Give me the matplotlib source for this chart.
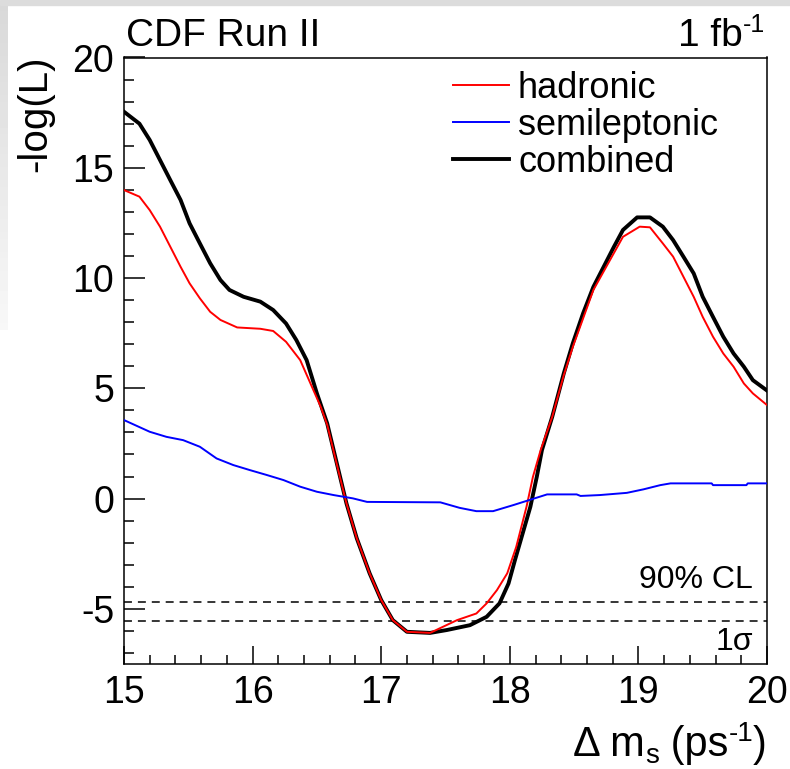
import numpy as np
import matplotlib
matplotlib.use('Agg')
from matplotlib import pyplot as plt
from matplotlib.patches import Rectangle
from matplotlib.ticker import MultipleLocator

plt.rcParams['font.family'] = ['Liberation Sans', 'DejaVu Sans']
plt.rcParams['axes.unicode_minus'] = False

# combined likelihood scan
comb_x = [15.00, 15.12, 15.20, 15.28, 15.36, 15.44, 15.51, 15.59, 15.67, 15.75,
          15.82, 15.93, 16.06, 16.16, 16.26, 16.34, 16.42, 16.50, 16.58, 16.63,
          16.68, 16.73, 16.81, 16.91, 17.00, 17.09, 17.20, 17.38, 17.51, 17.69,
          17.82, 17.92, 17.99, 18.04, 18.10, 18.16, 18.21, 18.25, 18.33, 18.42,
          18.49, 18.57, 18.65, 18.73, 18.81, 18.88, 18.99, 19.09, 19.19, 19.27,
          19.35, 19.43, 19.50, 19.58, 19.66, 19.74, 19.82, 19.89, 20.00]
comb_y = [17.54, 17.00, 16.26, 15.35, 14.44, 13.54, 12.48, 11.57, 10.67, 9.91,
          9.46, 9.15, 8.93, 8.55, 7.94, 7.19, 6.28, 4.77, 3.41, 2.20,
          0.99, -0.22, -1.80, -3.39, -4.60, -5.51, -6.04, -6.09, -5.96, -5.74,
          -5.36, -4.75, -3.85, -2.79, -1.58, -0.37, 0.99, 2.20, 3.71, 5.68,
          7.04, 8.40, 9.60, 10.51, 11.42, 12.18, 12.75, 12.75, 12.33, 11.72,
          10.97, 10.21, 9.15, 8.24, 7.34, 6.58, 5.98, 5.37, 4.90]

# hadronic
had_x = [15.00, 15.12, 15.20, 15.28, 15.36, 15.44, 15.51, 15.59, 15.67, 15.75,
         15.88, 16.06, 16.16, 16.26, 16.37, 16.45, 16.53, 16.58, 16.63, 16.68,
         16.73, 16.81, 16.91, 17.00, 17.09, 17.20, 17.38, 17.59, 17.74, 17.82,
         17.90, 17.98, 18.05, 18.13, 18.18, 18.24, 18.33, 18.42, 18.49, 18.65,
         18.75, 18.88, 19.01, 19.09, 19.19, 19.27, 19.35, 19.43, 19.50, 19.58,
         19.66, 19.74, 19.82, 19.89, 20.00]
had_y = [13.99, 13.69, 13.08, 12.33, 11.42, 10.51, 9.76, 9.08, 8.47, 8.10,
         7.76, 7.70, 7.60, 7.11, 6.28, 5.22, 4.16, 3.35, 2.15, 0.95,
         -0.22, -1.80, -3.39, -4.60, -5.51, -6.04, -6.09, -5.51, -5.21, -4.75,
         -4.15, -3.39, -2.19, -0.37, 0.99, 2.20, 3.71, 5.60, 6.88, 9.46,
         10.51, 11.87, 12.33, 12.30, 11.57, 10.97, 10.06, 9.15, 8.24, 7.34,
         6.58, 5.98, 5.22, 4.77, 4.24]

# semileptonic
semi_x = [15.00, 15.20, 15.33, 15.46, 15.59, 15.72, 15.85, 15.98, 16.11, 16.24,
          16.37, 16.50, 16.63, 16.78, 16.89, 17.46, 17.61, 17.74, 17.87, 18.03,
          18.16, 18.29, 18.52, 18.55, 18.70, 18.91, 19.04, 19.17, 19.25, 19.57,
          19.58, 19.84, 19.85, 20.00]
semi_y = [3.56, 3.03, 2.80, 2.65, 2.35, 1.82, 1.52, 1.29, 1.07, 0.84,
          0.54, 0.31, 0.16, 0.01, -0.15, -0.17, -0.42, -0.57, -0.57, -0.29,
          -0.05, 0.19, 0.19, 0.12, 0.16, 0.26, 0.42, 0.61, 0.69, 0.69,
          0.61, 0.61, 0.69, 0.69]

cl90 = -4.67
one_sigma = -5.53

W, H = 790, 769
fig = plt.figure(figsize=(W / 100, H / 100), dpi=100, facecolor='white')
renderer = fig.canvas.get_renderer()


def text_run(x_right, y_base, pieces):
    # pieces: (string, fontsize, vertical shift in px); laid out left to right,
    # whole run right-aligned at x_right (pixels from left), baseline y_base (px from top)
    widths = []
    for s, fs, dy in pieces:
        t = fig.text(0, 0, s, fontsize=fs)
        widths.append(t.get_window_extent(renderer).width)
        t.remove()
    x = x_right - sum(widths)
    for (s, fs, dy), w in zip(pieces, widths):
        fig.text(x / W, 1 - (y_base - dy) / H, s, fontsize=fs, ha='left', va='baseline')
        x += w


# slide background: grey strip on top, fading strip on the left
fig.patches.append(Rectangle((0, 1 - 5 / H), 1, 5 / H, transform=fig.transFigure,
                             color='#dcdcdc', zorder=0))
bg = fig.add_axes([0, 1 - 330 / H, 8 / W, 325 / H], zorder=0)
grad = np.linspace(0.85, 0.97, 50).reshape(-1, 1)
bg.imshow(grad, cmap='gray', vmin=0, vmax=1, aspect='auto')
bg.axis('off')

ax = fig.add_axes([124 / W, 1 - 664 / H, (767 - 124) / W, (664 - 57.5) / H])

l_comb, = ax.plot(comb_x, comb_y, color='black', lw=2.8, zorder=3)
l_had, = ax.plot(had_x, had_y, color='red', lw=1.4, zorder=4)
l_semi, = ax.plot(semi_x, semi_y, color='blue', lw=1.4, zorder=5)

dash = (0, (5.2, 3.9))
ax.axhline(cl90, color='black', lw=1.1, linestyle=dash, zorder=2)
ax.axhline(one_sigma, color='black', lw=1.1, linestyle=dash, zorder=2)

ax.set_xlim(15, 20)
ax.set_ylim(-7.5, 20)
ax.xaxis.set_major_locator(MultipleLocator(1))
ax.xaxis.set_minor_locator(MultipleLocator(0.2))
ax.yaxis.set_major_locator(MultipleLocator(5))
ax.yaxis.set_minor_locator(MultipleLocator(1))
ax.tick_params(which='both', direction='in', top=False, right=False, width=1.1,
               labelsize=27)
ax.tick_params(axis='x', which='major', length=13, pad=8)
ax.tick_params(axis='x', which='minor', length=6.5)
ax.tick_params(axis='y', which='major', length=15, pad=7)
ax.tick_params(axis='y', which='minor', length=7)
for s in ax.spines.values():
    s.set_linewidth(1.1)

ax.text(0.978, cl90 + 0.3, '90% CL', transform=ax.get_yaxis_transform(),
        ha='right', va='bottom', fontsize=23)
ax.text(0.978, one_sigma - 0.3, '1σ', transform=ax.get_yaxis_transform(),
        ha='right', va='top', fontsize=23)

ax.legend([l_had, l_semi, l_comb], ['hadronic', 'semileptonic', 'combined'],
          loc='upper left', bbox_to_anchor=(453 / W, 1 - 71 / H),
          bbox_transform=fig.transFigure, frameon=False, fontsize=26,
          handlelength=1.55, handletextpad=0.25, labelspacing=0.05,
          borderpad=0, borderaxespad=0)

fig.text(126 / W, 1 - 46 / H, 'CDF Run II', ha='left', va='baseline', fontsize=28)
text_run(765, 46, [('1 fb', 28, 0), ('-1', 18, 14)])
fig.text(35 / W, 1 - 55 / H, '-log(L)', rotation=90, ha='center', va='top',
         fontsize=29)
text_run(767, 756, [('Δ m', 30, 0), ('s', 20, -7), (' (ps', 30, 0),
                    ('-1', 20, 15), (')', 30, 0)])

fig.savefig('out.png', dpi=100, facecolor=fig.get_facecolor())
